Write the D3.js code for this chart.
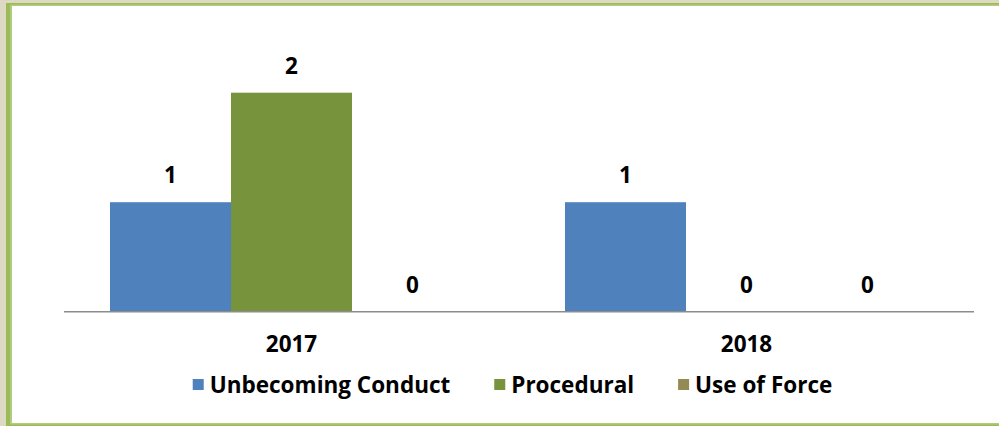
<!DOCTYPE html>
<html>
<head>
<meta charset="utf-8">
<script src="https://cdn.jsdelivr.net/npm/d3@7"></script>
<style>
  html, body { margin: 0; padding: 0; background: #DDD9C3; }
  svg { display: block; }
  text { font-family: "Open Sans", sans-serif; font-weight: bold; fill: #000; }
</style>
</head>
<body>
<svg id="chart" width="999" height="426"></svg>
<script>
// data
const years = ['2017', '2018'];
const seriesNames = ['Unbecoming Conduct', 'Procedural', 'Use of Force'];
const unbecoming = [1, 1];
const procedural = [2, 0];
const useOfForce = [0, 0];
const seriesColors = ['#4F81BD', '#77933C', '#948A54'];

const seriesValues = [unbecoming, procedural, useOfForce];
const rows = years.map((y, i) => ({
  year: y,
  values: seriesNames.map((s, j) => ({ key: s, value: seriesValues[j][i], color: seriesColors[j] }))
}));

const W = 999, H = 426;
const svg = d3.select('#chart');

// frame: beige outside, green border, white inside
svg.append('rect').attr('x', 0).attr('y', 0).attr('width', W).attr('height', H).attr('fill', '#DDD9C3');
svg.append('rect').attr('x', 6).attr('y', 3).attr('width', W).attr('height', H - 3).attr('fill', '#9BBB59');
svg.append('rect').attr('x', 10).attr('y', 4.5).attr('width', W).attr('height', H - 6).attr('fill', '#B3CB80');
svg.append('rect').attr('x', 12).attr('y', 6).attr('width', W).attr('height', 417).attr('fill', '#fff');

const plot = { left: 64, right: 974, top: 92.7, bottom: 311.7 };

const x0 = d3.scaleBand().domain(years).range([plot.left, plot.right]).padding(0);
const x1 = d3.scaleBand().domain(seriesNames).range([0, x0.bandwidth()]).paddingInner(0).paddingOuter(0.38);
const y = d3.scaleLinear().domain([0, 2]).range([plot.bottom, plot.top]);

const groups = svg.append('g').selectAll('g').data(rows).enter().append('g')
  .attr('transform', d => 'translate(' + x0(d.year) + ',0)');

groups.selectAll('rect').data(d => d.values).enter().append('rect')
  .attr('x', d => x1(d.key))
  .attr('y', d => y(d.value))
  .attr('width', x1.bandwidth())
  .attr('height', d => y(0) - y(d.value))
  .attr('fill', d => d.color);

groups.selectAll('text').data(d => d.values).enter().append('text')
  .attr('x', d => x1(d.key) + x1.bandwidth() / 2)
  .attr('y', d => y(d.value) - 19)
  .attr('text-anchor', 'middle')
  .style('font-size', '22.5px')
  .text(d => d.value);

// category axis
svg.append('line')
  .attr('x1', plot.left).attr('x2', plot.right)
  .attr('y1', y(0)).attr('y2', y(0))
  .attr('stroke', '#8C8C8C').attr('stroke-width', 1.5);

svg.append('g').selectAll('text').data(years).enter().append('text')
  .attr('x', d => x0(d) + x0.bandwidth() / 2)
  .attr('y', 352)
  .attr('text-anchor', 'middle')
  .style('font-size', '22.5px')
  .text(d => d);

// legend
const legend = svg.append('g');
let lx = 0;
seriesNames.forEach((name, i) => {
  const item = legend.append('g').attr('transform', 'translate(' + lx + ',0)');
  item.append('rect').attr('x', 0).attr('y', 379).attr('width', 11).attr('height', 11).attr('fill', seriesColors[i]);
  const t = item.append('text').attr('x', 17).attr('y', 393).style('font-size', '22.5px').text(name);
  lx += 17 + t.node().getComputedTextLength() + 44;
});
const legendWidth = lx - 44;
legend.attr('transform', 'translate(' + (512.5 - legendWidth / 2) + ',0)');
</script>
</body>
</html>
